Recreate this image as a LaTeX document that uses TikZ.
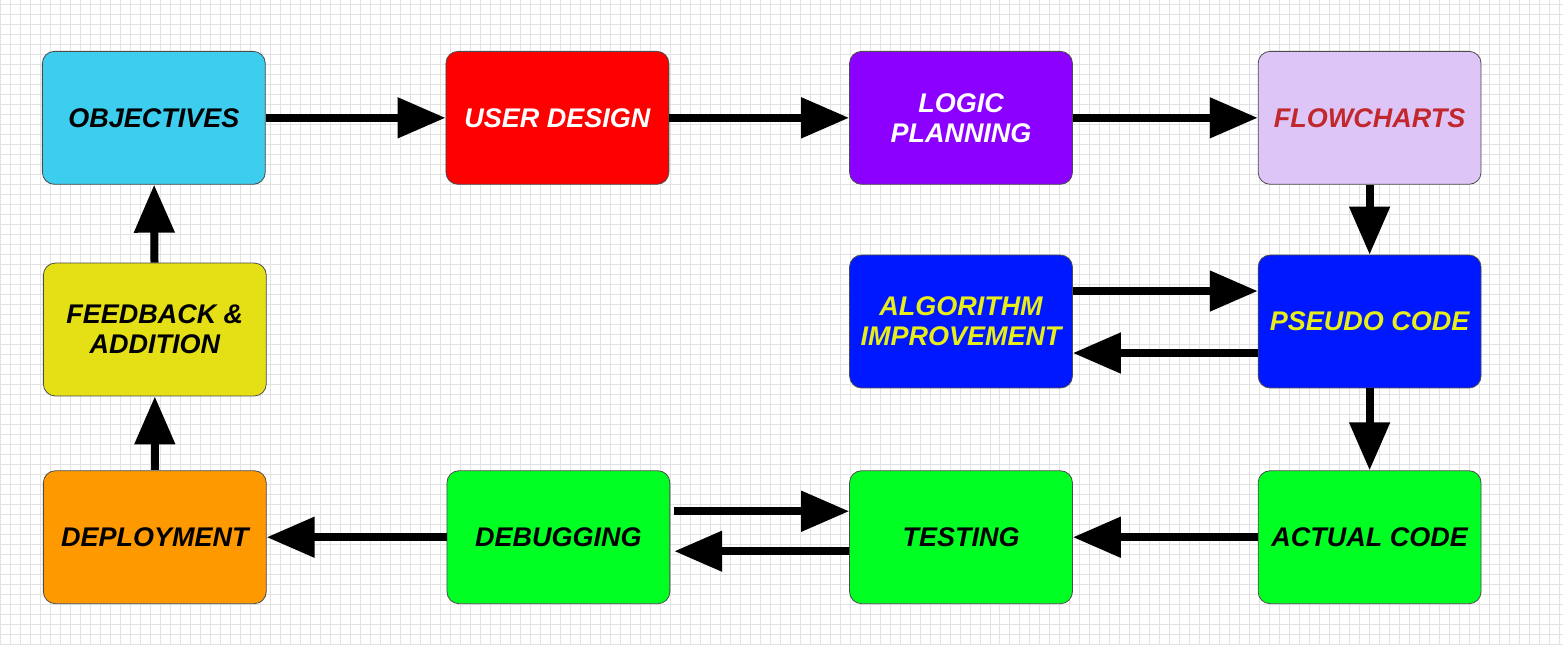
\documentclass[tikz,border=0pt]{standalone}
\usepackage{fontspec}
\setsansfont{Liberation Sans}
\usetikzlibrary{positioning,arrows.meta}

\definecolor{objcol}{HTML}{3DCDEF}
\definecolor{usercol}{HTML}{FF0000}
\definecolor{logiccol}{HTML}{8B00FF}
\definecolor{flowcol}{HTML}{DDC6F7}
\definecolor{flowtext}{HTML}{C1272D}
\definecolor{bluecol}{HTML}{0018FF}
\definecolor{yellowtext}{HTML}{E8EE1A}
\definecolor{greencol}{HTML}{00FF22}
\definecolor{deploycol}{HTML}{FF9900}
\definecolor{feedcol}{HTML}{E5E015}
\definecolor{gridcol}{HTML}{E2E2E2}

\tikzset{
  stage/.style={draw=black!70, line width=0.8pt, rectangle, rounded corners=12pt,
    minimum width=223pt, minimum height=133pt, align=center,
    font=\sffamily\bfseries\itshape\fontsize{27}{30}\selectfont},
  flowline/.style={line width=8pt, -{Triangle[length=48pt,width=39pt]}}
}

\begin{document}
\begin{tikzpicture}[x=1pt, y=1pt, node distance=180pt]
% background grid
\fill[white] (0,0) rectangle (1563,644);
\draw[gridcol, line width=0.8pt, step=10] (0,0) grid (1563,644);
\useasboundingbox (0,0) rectangle (1563,644);

\node[stage, fill=objcol] (obj) at (153.5,526.5) {OBJECTIVES};
\node[stage, fill=usercol, text=white] (user) [right=of obj] {USER DESIGN};
\node[stage, fill=logiccol, text=white] (logic) [right=of user] {LOGIC\\PLANNING};
\node[stage, fill=flowcol, text=flowtext] (flow) [right=185pt of logic] {FLOWCHARTS};
\node[stage, fill=bluecol, text=yellowtext] (pseudo) [below=70pt of flow] {PSEUDO CODE};
\node[stage, fill=bluecol, text=yellowtext] (algo) [left=185pt of pseudo] {ALGORITHM\\IMPROVEMENT};
\node[stage, fill=greencol] (actual) [below=82pt of pseudo] {ACTUAL CODE};
\node[stage, fill=greencol] (test) [left=185pt of actual] {TESTING};
\node[stage, fill=greencol] (debug) [left=179pt of test] {DEBUGGING};
\node[stage, fill=deploycol] (deploy) [left=of debug] {DEPLOYMENT};
\node[stage, fill=feedcol] (feed) [above=74pt of deploy] {FEEDBACK \&\\ADDITION};

\draw[flowline] (obj) -- (user);
\draw[flowline] (user) -- (logic);
\draw[flowline] (logic) -- (flow);
\draw[flowline] (flow) -- (pseudo);
\draw[flowline] ([yshift=30.5pt]algo.east) -- ([yshift=30.5pt]algo.east -| pseudo.west);
\draw[flowline] ([yshift=-31.5pt]pseudo.west) -- ([yshift=-31.5pt]pseudo.west -| algo.east);
\draw[flowline] (pseudo) -- (actual);
\draw[flowline] (actual) -- (test);
\draw[flowline] ([xshift=4pt,yshift=26pt]debug.east) -- ([yshift=26pt]debug.east -| test.west);
\draw[flowline] ([yshift=-14pt]test.west) -- ([xshift=4pt,yshift=-14pt]test.west -| debug.east);
\draw[flowline] (debug) -- (deploy);
\draw[flowline] (deploy) -- (feed);
\draw[flowline] (feed) -- (obj);
\end{tikzpicture}
\end{document}
